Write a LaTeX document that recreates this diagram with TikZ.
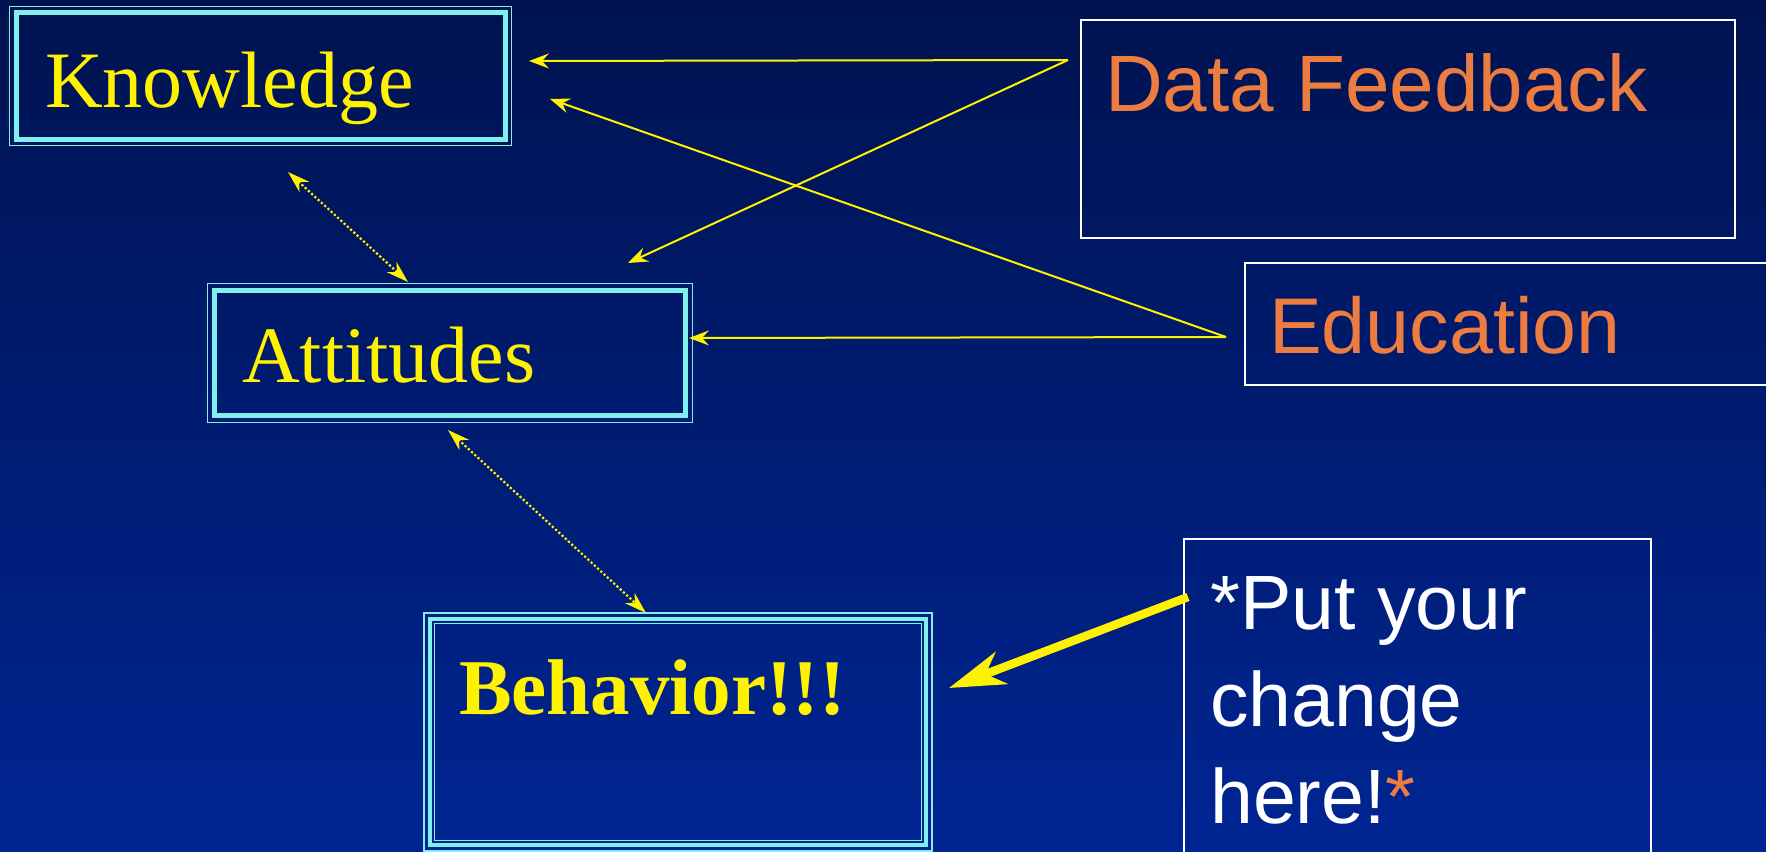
\documentclass[tikz,border=0pt]{standalone}
\usepackage{fontspec}
\setmainfont{Liberation Serif}
\setsansfont{Liberation Sans}
\usetikzlibrary{arrows.meta}
\usetikzlibrary{calc}
\definecolor{bgtop}{RGB}{0,19,80}
\definecolor{bgbottom}{RGB}{0,37,147}
\definecolor{framecyan}{RGB}{128,240,236}
\definecolor{orangetext}{RGB}{236,124,64}
\tikzset{
  cyanframe/.style={draw=framecyan, line width=5pt, inner sep=0pt, outer sep=0pt},
  cyanrule/.style={draw=framecyan, line width=1.6pt},
  whiteframe/.style={draw=white, line width=2.2pt, inner sep=0pt, outer sep=0pt},
  yellowword/.style={text=yellow, anchor=base west, inner sep=0pt, font=\fontsize{80}{96}\selectfont},
  orangeword/.style={text=orangetext, anchor=base west, inner sep=0pt, font=\sffamily\fontsize{80}{96}\selectfont},
  feedarrow/.style={draw=yellow, line width=2pt, -{Stealth[length=20pt,width=15pt,inset=7pt]}},
  linkarrow/.style={draw=yellow, line width=2.2pt, dash pattern=on 2.2pt off 2.2pt,
    {Stealth[length=22pt,width=14pt,inset=7pt]}-{Stealth[length=22pt,width=14pt,inset=7pt]}},
  bigarrow/.style={draw=yellow, line width=8.5pt, -{Stealth[length=56pt,width=34pt,inset=17pt]}},
}
\begin{document}
\begin{tikzpicture}[x=1pt,y=-1pt]
  \useasboundingbox (0,0) rectangle (1766,851);
  \clip (0,0) rectangle (1766,851);
  \shade[top color=bgtop, bottom color=bgbottom] (0,0) rectangle (1766,851);

  % framed boxes on the left
  \node[cyanframe, minimum width=489pt, minimum height=126pt] (knowbox) at (260.5,76) {};
  \draw[cyanrule] ($(knowbox.north west)+(-6.5pt,6.5pt)$) rectangle ($(knowbox.south east)+(6.5pt,-6.5pt)$);
  \node[yellowword] (knowtext) at (45,107) {Knowledge};

  \node[cyanframe, minimum width=471pt, minimum height=125pt] (attbox) at (450,353) {};
  \draw[cyanrule] ($(attbox.north west)+(-7pt,7pt)$) rectangle ($(attbox.south east)+(7pt,-7pt)$);
  \node[yellowword] (atttext) at (242,382) {Attitudes};

  \node[cyanframe, line width=4.5pt, minimum width=496pt, minimum height=226pt] (behbox) at (678,732) {};
  \draw[cyanrule] ($(behbox.north west)+(-6pt,6pt)$) rectangle ($(behbox.south east)+(6pt,-6pt)$);
  \draw[cyanrule] ($(behbox.north west)+(4.5pt,-4.5pt)$) rectangle ($(behbox.south east)+(-4.5pt,4.5pt)$);
  \node[yellowword, font=\bfseries\fontsize{79}{96}\selectfont] (behtext) at (459,714) {Behavior!!!};

  % white boxes on the right
  \node[whiteframe, minimum width=654pt, minimum height=218pt] (databox) at (1408,129) {};
  \node[orangeword] (datatext) at (1105,111) {Data Feedback};

  \node[whiteframe, minimum width=545pt, minimum height=122pt] (edubox) at (1517.5,324) {};
  \node[orangeword, font=\sffamily\fontsize{79}{96}\selectfont] (edutext) at (1269,353) {Education};

  \node[whiteframe, minimum width=467pt, minimum height=341pt] (putbox) at (1417.5,709.5) {};
  \node[text=white, anchor=base west, inner sep=0pt, align=left, font=\sffamily\fontsize{77}{97}\selectfont]
    (puttext) at (1210,823) {*Put your\\change\\here!{\color{orangetext}*}};

  % arrow ends
  \coordinate (dataout) at (1068,60);
  \coordinate (eduout) at (1226,337);
  \coordinate (knowin1) at (529,61);
  \coordinate (knowin2) at (550,99);
  \coordinate (attin1) at (628,263);
  \coordinate (attin2) at (689,338);
  \coordinate (knowlow) at (288,172);
  \coordinate (atthigh) at (408,282);
  \coordinate (attlow) at (448,430);
  \coordinate (behhigh) at (646,613);
  \coordinate (putout) at (1188,597);
  \coordinate (behin) at (949,688);

  \draw[feedarrow] (dataout) -- (knowin1);
  \draw[feedarrow] (dataout) -- (attin1);
  \draw[feedarrow] (eduout) -- (knowin2);
  \draw[feedarrow] (eduout) -- (attin2);
  \draw[linkarrow] (knowlow) -- (atthigh);
  \draw[linkarrow] (attlow) -- (behhigh);
  \draw[bigarrow] (putout) -- (behin);
\end{tikzpicture}
\end{document}
